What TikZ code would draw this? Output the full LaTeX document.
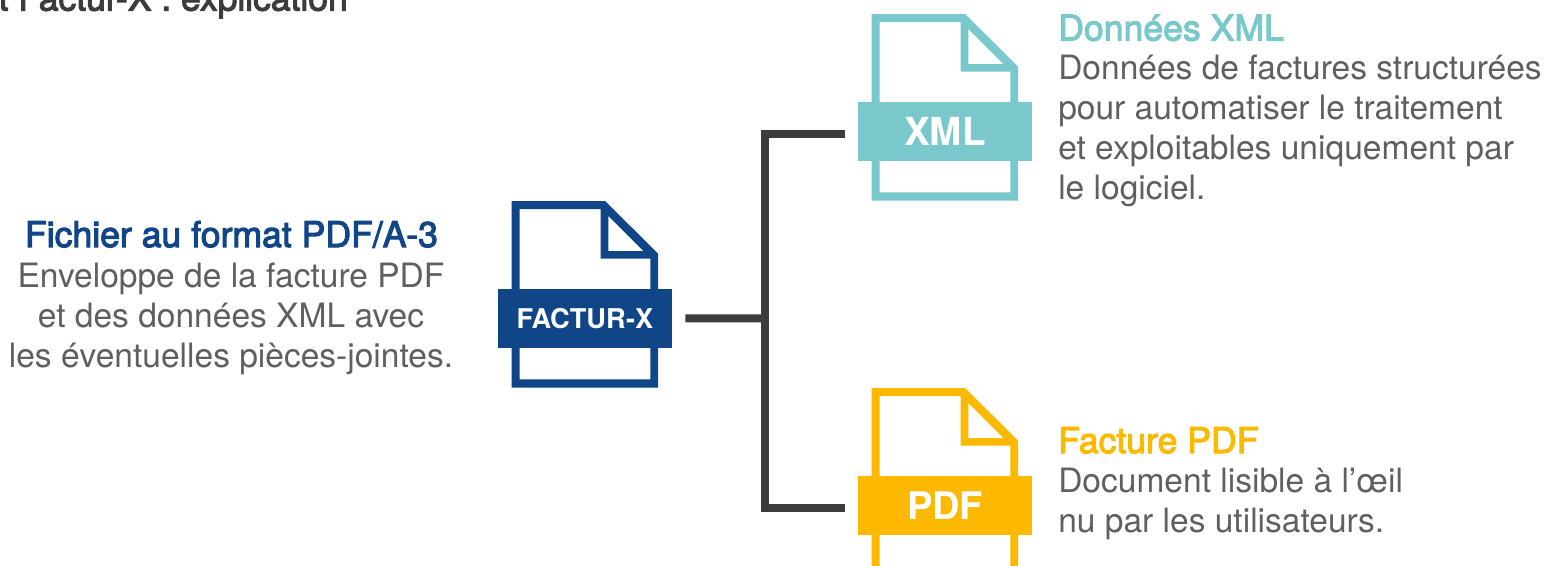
\documentclass[tikz,border=0pt]{standalone}
\usepackage{fontspec}
\setmainfont{TeX Gyre Heros}
\newfontfamily\headfont[FakeBold=3]{TeX Gyre Heros}
\definecolor{fxblue}{HTML}{104587}
\definecolor{fxteal}{HTML}{79C8CB}
\definecolor{fxyellow}{HTML}{FDB900}
\definecolor{fxdark}{HTML}{3C3C3B}
\definecolor{fxgray}{HTML}{5F5F5E}
\tikzset{
  x=0.75pt,y=-0.75pt,
  band/.style={minimum width=130.5pt,minimum height=44pt,inner sep=0pt,text=white,font=\bfseries\fontsize{#1}{#1}\selectfont},
  conn/.style={draw=fxdark,line width=6pt},
  bodytext/.style={inner sep=0pt,text=fxgray,font=\fontsize{25.15}{30}\selectfont},
  headtext/.style={inner sep=0pt,font=\headfont\fontsize{26.7}{30}\selectfont},
  pics/docicon/.style={code={
    \fill[#1,even odd rule]
      (511.7,201) -- (605,201) -- (658,253.5) -- (658,387.7) -- (511.7,387.7) -- cycle
      (519.6,209) -- (519.6,379.4) -- (650.3,379.4) -- (650.3,258.7) -- (600.7,258.7) -- (600.7,209) -- cycle
      (608.3,216) -- (608.3,251) -- (643.3,251) -- cycle;
  }}
}
\begin{document}
\begin{tikzpicture}
\useasboundingbox (0,0) rectangle (1548,565);
\clip (0,0) rectangle (1548,565);
% title
\node[anchor=base east,inner sep=0pt,text=fxdark,font=\headfont\fontsize{26.6}{28}\selectfont] (title) at (348,10.5) {t Factur-X : explication};
% icons
\pic at (0,0) {docicon=fxblue};
\pic at (360,-187) {docicon=fxteal};
\pic at (360,187) {docicon=fxyellow};
\node[band=20.4,fill=fxblue] (fx) at (585,318.3) {FACTUR-X};
\node[band=29,fill=fxteal] (xb) at (945,131.5) {XML};
\node[band=28.5,fill=fxyellow] (pb) at (945,505.5) {PDF};
% connectors
\coordinate (jct) at (765,318.5);
\coordinate (topend) at (845,134);
\coordinate (botend) at (845,507.5);
\draw[conn,shorten <=9.75pt] (fx.east) -- (jct);
\draw[conn,line join=miter] (topend) -| (jct) |- (botend);
% left text
\node[headtext,text=fxblue,anchor=base] (h1) at (231.5,247) {Fichier au format PDF/A-3};
\node[bodytext,anchor=north,align=center] (b1) at (231,262.5) {Enveloppe de la facture PDF\\et des données XML avec\\les éventuelles pièces-jointes.};
% right text
\node[headtext,text=fxteal,anchor=base west] (h2) at (1058,40.5) {Données XML};
\node[bodytext,anchor=north west,align=left] (b2) at (1058,55) {Données de factures structurées\\pour automatiser le traitement\\et exploitables uniquement par\\le logiciel.};
\node[headtext,text=fxyellow,anchor=base west] (h3) at (1058,453) {Facture PDF};
\node[bodytext,anchor=north west,align=left] (b3) at (1058,468) {Document lisible à l’œil\\nu par les utilisateurs.};
\end{tikzpicture}
\end{document}
